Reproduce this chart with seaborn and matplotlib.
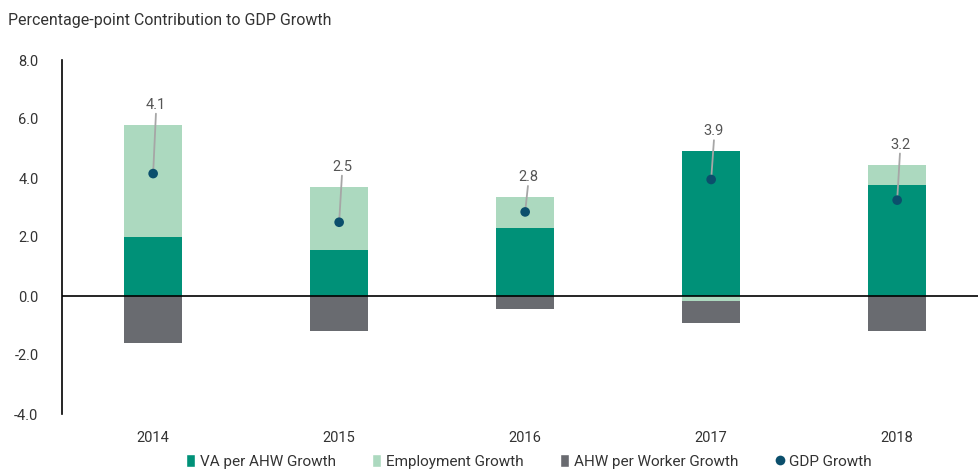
import numpy as np
import pandas as pd
import matplotlib
matplotlib.use("Agg")
import matplotlib.pyplot as plt
from matplotlib.lines import Line2D
from matplotlib.patches import Patch
import seaborn as sns

# Data
years = ["2014", "2015", "2016", "2017", "2018"]
va_per_ahw = [2.0, 1.55, 2.3, 4.9, 3.75]
employment = [3.8, 2.15, 1.05, -0.17, 0.7]
ahw_per_worker = [-1.6, -1.2, -0.45, -0.75, -1.2]
gdp_growth = [4.15, 2.5, 2.85, 3.95, 3.25]
gdp_labels = ["4.1", "2.5", "2.8", "3.9", "3.2"]

c_va = "#009178"
c_emp = "#acd9bf"
c_ahw = "#696b70"
c_gdp = "#0b4f6c"

sns.set_theme(style="white")
plt.rcParams["font.family"] = ["Roboto", "DejaVu Sans"]

df = pd.DataFrame({"year": years, "va": va_per_ahw, "emp": employment,
                   "ahw": ahw_per_worker, "gdp": gdp_growth})
df["emp_pos"] = df["emp"].clip(lower=0)
df["emp_neg"] = df["emp"].clip(upper=0)
df["pos_top"] = df["va"] + df["emp_pos"]
df["neg_bot"] = df["emp_neg"] + df["ahw"]

fig = plt.figure(figsize=(9.79, 4.72), dpi=100)
ax = fig.add_axes([62 / 979, 1 - 414 / 472, 1 - 62 / 979, (414 - 60) / 472])

w = 0.31
# layered drawing: cumulative totals first, then inner segments
sns.barplot(data=df, x="year", y="neg_bot", order=years, color=c_ahw, width=w,
            saturation=1, linewidth=0, ax=ax)
sns.barplot(data=df, x="year", y="pos_top", order=years, color=c_emp, width=w,
            saturation=1, linewidth=0, ax=ax)
sns.barplot(data=df, x="year", y="emp_neg", order=years, color=c_emp, width=w,
            saturation=1, linewidth=0, ax=ax)
sns.barplot(data=df, x="year", y="va", order=years, color=c_va, width=w,
            saturation=1, linewidth=0, ax=ax)

xpos = np.arange(len(years))
ax.axhline(0, color="black", lw=1.2, zorder=3)

# GDP dots with leader lines to labels
for i, (g, top, lab) in enumerate(zip(df["gdp"], df["pos_top"], gdp_labels)):
    ty = top + 0.68
    ax.plot([i, i + 0.015], [g, ty - 0.3], color="#a6a6a6", lw=1.3, zorder=4)
    ax.text(i + 0.015, ty, lab, ha="center", va="center", fontsize=10.5,
            color="#555555", zorder=5)
sns.scatterplot(x=xpos, y=df["gdp"].values, color=c_gdp, s=48, edgecolor="none",
                zorder=6, ax=ax)

ax.set_xlim(-0.49, 4.44)
ax.set_ylim(-4.0, 8.0)
ax.set_yticks(np.arange(-4, 8.1, 2))
ax.set_yticklabels([f"{v:.1f}" for v in np.arange(-4, 8.1, 2)])
ax.set_xticks(xpos)
ax.set_xticklabels(years)
ax.set_xlabel("")
ax.set_ylabel("")
ax.tick_params(axis="both", length=0, labelsize=10.5, colors="#333333")
ax.tick_params(axis="y", pad=17)
ax.tick_params(axis="x", pad=12)
for s in ["top", "right", "bottom"]:
    ax.spines[s].set_visible(False)
ax.spines["left"].set_color("black")
ax.spines["left"].set_linewidth(1.2)

fig.text(8 / 979, 1 - 20 / 472, "Percentage-point Contribution to GDP Growth",
         fontsize=11.5, color="#333333", va="center", ha="left")

handles = [
    Patch(facecolor=c_va, label="VA per AHW Growth"),
    Patch(facecolor=c_emp, label="Employment Growth"),
    Patch(facecolor=c_ahw, label="AHW per Worker Growth"),
    Line2D([0], [0], marker="o", color="none", markerfacecolor=c_gdp,
           markeredgecolor="none", markersize=7, label="GDP Growth"),
]
fig.legend(handles=handles, loc="lower center", bbox_to_anchor=(0.54, -0.022),
           ncol=4, frameon=False, fontsize=11, handlelength=0.6,
           handleheight=1.0, handletextpad=0.3, columnspacing=2.4,
           labelcolor="#333333")

fig.savefig("out.png", dpi=100)
